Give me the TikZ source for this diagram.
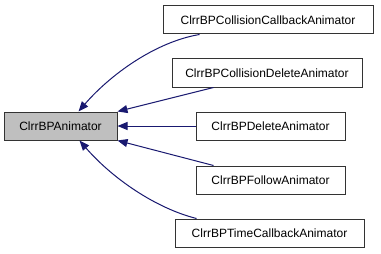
\documentclass[tikz,border=0pt]{standalone}
\usepackage{fontspec}
\setmainfont{Liberation Sans}
\usetikzlibrary{arrows.meta,calc}
\begin{document}
\begin{tikzpicture}[x=0.75pt,y=-0.75pt,
  cls/.style={draw=black!80,fill=white,line width=0.75pt,inner sep=0pt,
    minimum height=21pt,font=\fontsize{9pt}{10pt}\selectfont},
  base/.style={cls,fill=black!25},
  inh/.style={draw=edgeblue,line width=0.75pt,
    {Triangle[length=7.5pt,width=6pt,fill=edgeblue]}-}]
\definecolor{edgeblue}{HTML}{191970}
\useasboundingbox (0,0) rectangle (381,253);
% base class
\node[base,minimum width=84.75pt] (main) at (60.5,126) {ClrrBPAnimator};
% derived classes
\node[cls,minimum width=157.5pt] (b1) at (268,20) {ClrrBPCollisionCallbackAnimator};
\node[cls,minimum width=142.5pt] (b2) at (267,73) {ClrrBPCollisionDeleteAnimator};
\node[cls,minimum width=111.75pt] (b3) at (270.5,126) {ClrrBPDeleteAnimator};
\node[cls,minimum width=111.75pt] (b4) at (270.5,180) {ClrrBPFollowAnimator};
\node[cls,minimum width=141.75pt] (b5) at (269.5,233) {ClrrBPTimeCallbackAnimator};
% inheritance edges
\coordinate (t1) at ($(main.north east)+(-39,0)$);
\coordinate (t5) at ($(main.south east)+(-38,0)$);
\coordinate (s1) at ($(b1.south west)+(37,0)$);
\coordinate (s2) at ($(b2.south west)+(42,0)$);
\coordinate (s4) at ($(b4.north west)+(18,0)$);
\coordinate (s5) at ($(b5.north west)+(22,0)$);
\draw[inh] (t1) .. controls (110,75) and (155,42) .. (s1);
\draw[inh] (main.north east) -- (s2);
\draw[inh] (main.east) -- (b3.west);
\draw[inh] (main.south east) -- (s4);
\draw[inh] (t5) .. controls (112,178) and (155,208) .. (s5);
\end{tikzpicture}
\end{document}
